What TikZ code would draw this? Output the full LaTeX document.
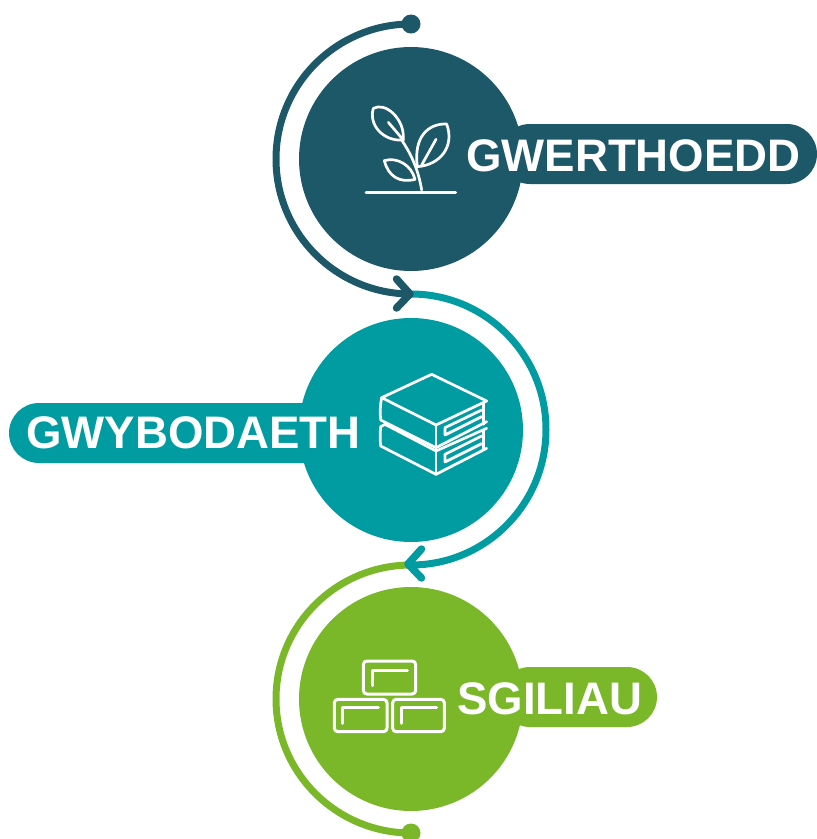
\documentclass[tikz,border=0pt]{standalone}
\usepackage{fontspec}
\setmainfont{Liberation Sans}
\definecolor{cdark}{HTML}{1C5868}
\definecolor{cteal}{HTML}{009CA1}
\definecolor{cgreen}{HTML}{7AB829}
\tikzset{
  disc/.style={circle,fill=#1,draw=none,minimum size=224pt,inner sep=0pt},
  pill/.style={rectangle,fill=#1,draw=none,rounded corners=30pt,minimum height=60pt,inner sep=0pt},
  lbl/.style={text=white,font=\fontsize{45.6pt}{50pt}\selectfont\bfseries,anchor=base west,inner sep=0pt},
  ring/.style={draw=#1,line width=7pt},
  chev/.style={draw=#1,line width=7.5pt,line cap=round,line join=round},
  enddot/.style={circle,fill=#1,draw=none,minimum size=19pt,inner sep=0pt},
  ico/.style={draw=white,line width=2.7pt,line cap=round,line join=round},
  icoz/.style={shift={#1},x=0.33333pt,y=-0.33333pt}
}
\begin{document}
\begin{tikzpicture}[x=1pt,y=-1pt]
\useasboundingbox (0,0) rectangle (817,839);
% anchor points of the arcs
\coordinate (ptop) at (411,24);
\coordinate (pa) at (411,294);
\coordinate (pb) at (411,565);
\coordinate (pbot) at (411,833);
% green arc
\draw[ring=cgreen] (pb) arc[start angle=90,end angle=270,x radius=135pt,y radius=134pt];
\node[enddot=cgreen] (dotbot) at (pbot) {};
% teal arc
\draw[ring=cteal] (pa) arc[start angle=90,end angle=-90,x radius=135pt,y radius=135.5pt];
\coordinate (t2a) at (421.5,549); \coordinate (t2b) at (408,564); \coordinate (t2c) at (421.5,578);
\draw[chev=cteal] (t2a) -- (t2b) -- (t2c);
% dark arc
\draw[ring=cdark] (ptop) arc[start angle=90,end angle=270,x radius=135pt,y radius=135pt];
\node[enddot=cdark] (dottop) at (ptop) {};
\coordinate (t1a) at (396.5,279); \coordinate (t1b) at (410,294); \coordinate (t1c) at (396.5,308);
\draw[chev=cdark] (t1a) -- (t1b) -- (t1c);
% pills
\node[pill=cdark,minimum width=317pt] (p1) at (658.5,154) {};
\node[pill=cteal,minimum width=341pt] (p2) at (179.5,433) {};
\node[pill=cgreen,minimum width=157pt] (p3) at (578.5,697) {};
% circles
\node[disc=cdark] (c1) at (411,159) {};
\node[disc=cteal] (c2) at (411,430) {};
\node[disc=cgreen] (c3) at (411,699) {};
% labels
\node[lbl] (l1) at (466,171.5) {GWERTHOEDD};
\node[lbl] (l2) at (26,448) {GWYBODAETH};
\node[lbl] (l3) at (457,714.5) {SGILIAU};
% plant
\begin{scope}[icoz={(340,90)}]
\draw[ico] (78,307) -- (347,307);
\draw[ico] (245,300) .. controls (235,240) and (215,195) .. (185,150);
\draw[ico] (100,55) .. controls (135,35) and (195,85) .. (190,150) .. controls (130,155) and (85,105) .. (100,55) -- cycle;
\draw[ico] (145,97) -- (190,150);
\draw[ico] (320,102) .. controls (265,100) and (220,140) .. (232,230) .. controls (300,225) and (345,170) .. (320,102) -- cycle;
\draw[ico] (288,148) -- (245,225);
\draw[ico] (133,212) .. controls (170,200) and (215,225) .. (225,268) .. controls (180,280) and (145,260) .. (133,212) -- cycle;
\end{scope}
% books
\begin{scope}[icoz={(365,365)}]
\draw[ico] (200,28) -- (365,108) -- (213,180) -- (50,98) -- cycle;
\draw[ico] (50,98) .. controls (45,120) and (45,145) .. (47,165) -- (213,248) -- (365,170);
\draw[ico] (213,180) -- (213,328);
\draw[ico] (355,115) -- (355,178);
\draw[ico] (240,188) -- (350,135);
\draw[ico] (240,188) -- (240,210) -- (350,155);
\draw[ico] (60,178) -- (213,258);
\draw[ico] (213,258) -- (365,190);
\draw[ico] (60,178) -- (47,185) .. controls (45,205) and (45,225) .. (47,243) -- (213,328) -- (365,250);
\draw[ico] (355,195) -- (355,250);
\draw[ico] (240,268) -- (350,213);
\draw[ico] (240,268) -- (240,291) -- (350,236);
\end{scope}
% bricks
\begin{scope}[icoz={(325,650)}]
\draw[ico,line width=3pt,rounded corners=3.5pt] (115,33) rectangle (272,132);
\draw[ico,line width=3pt] (141,107) -- (141,60) -- (247,60);
\draw[ico,line width=3pt,rounded corners=3.5pt] (28,148) rectangle (186,245);
\draw[ico,line width=3pt] (53,220) -- (53,172) -- (160,172);
\draw[ico,line width=3pt,rounded corners=3.5pt] (203,148) rectangle (358,245);
\draw[ico,line width=3pt] (228,220) -- (228,172) -- (335,172);
\end{scope}
\end{tikzpicture}
\end{document}
